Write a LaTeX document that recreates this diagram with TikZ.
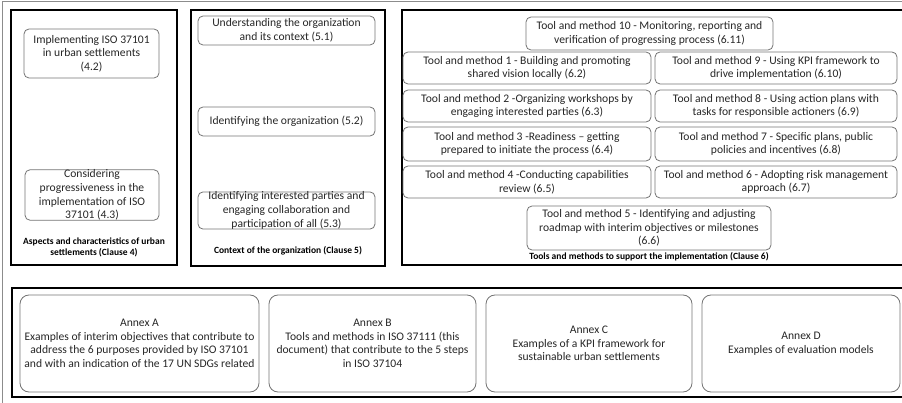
\documentclass[tikz,border=0pt]{standalone}
\usepackage{fontspec}
\setmainfont{Carlito}
\usepackage{tikz}

\begin{document}
\begin{tikzpicture}[x=1pt,y=-1pt,
      every node/.style={font=\fontsize{11.6}{13.6}\selectfont,text=black!85,align=center,inner sep=0pt},
      clause/.style={draw=black,line width=1.5pt},
      item/.style={draw=black!55,rounded corners=5pt,line width=0.8pt},
      annex/.style={draw=black!55,rounded corners=9pt,line width=0.8pt,minimum height=97},
      caption/.style={font=\fontsize{9.5}{11}\selectfont\bfseries,text=black}]
    \useasboundingbox (0,0) rectangle (902,403);
    \clip (0,0) rectangle (902,403);
    \draw[black!45,line width=1pt] (2,2) rectangle (920,420);

    \node[clause,minimum width=166,minimum height=255] (c4) at (94,137.5) {};
    \node[clause,minimum width=194,minimum height=256] (c5) at (288,138) {};
    \node[clause,minimum width=510,minimum height=255] (c6) at (657,137.5) {};
    \node[clause,minimum width=898,minimum height=109] (annexes) at (461,342.5) {};

    \node[item,minimum width=135,minimum height=49] (s42) at (91.5,53.5)
        {Implementing ISO 37101\\in urban settlements\\(4.2)};
    \node[item,minimum width=134,minimum height=48] (s43) at (92,195)
        {Considering\\progressiveness in the\\implementation of ISO\\37101 (4.3)};
    \node[caption] (l4) at (94,247.5) {Aspects and characteristics of urban\\settlements (Clause 4)};

    \node[item,minimum width=177,minimum height=29] (s51) at (286.5,30.5)
        {Understanding the organization\\and its context (5.1)};
    \node[item,minimum width=177,minimum height=29] (s52) at (286.5,121.5)
        {Identifying the organization (5.2)};
    \node[item,minimum width=177,minimum height=35] (s53) at (286.5,210.5)
        {Identifying interested parties and\\engaging collaboration and\\participation of all (5.3)};
    \node[caption] (l5) at (288,251) {Context of the organization (Clause 5)};

    \node[item,minimum width=247,minimum height=33] (tm10) at (649.5,33.5)
        {Tool and method 10 - Monitoring, reporting and\\verification of progressing process (6.11)};
    \node[item,minimum width=248,minimum height=32] (tm1) at (527,68)
        {Tool and method 1 - Building and promoting\\shared vision locally (6.2)};
    \node[item,minimum width=242,minimum height=32] (tm9) at (776,68)
        {Tool and method 9 - Using KPI framework to\\drive implementation (6.10)};
    \node[item,minimum width=248,minimum height=32] (tm2) at (527,106)
        {Tool and method 2 -Organizing workshops by\\engaging interested parties (6.3)};
    \node[item,minimum width=242,minimum height=32] (tm8) at (776,106)
        {Tool and method 8 - Using action plans with\\tasks for responsible actioners (6.9)};
    \node[item,minimum width=248,minimum height=34] (tm3) at (527,144)
        {Tool and method 3 -Readiness -- getting\\prepared to initiate the process (6.4)};
    \node[item,minimum width=242,minimum height=34] (tm7) at (776,144)
        {Tool and method 7 - Specific plans, public\\policies and incentives (6.8)};
    \node[item,minimum width=248,minimum height=32] (tm4) at (527,182)
        {Tool and method 4 -Conducting capabilities\\review (6.5)};
    \node[item,minimum width=242,minimum height=32] (tm6) at (776,182)
        {Tool and method 6 - Adopting risk management\\approach (6.7)};
    \node[item,minimum width=244,minimum height=44] (tm5) at (649,228)
        {Tool and method 5 - Identifying and adjusting\\roadmap with interim objectives or milestones\\(6.6)};
    \node[caption] (l6) at (649,257) {Tools and methods to support the implementation (Clause 6)};

    \node[annex,minimum width=239] (anA) at (139.5,343.5)
        {Annex A\\Examples of interim objectives that contribute to\\address the 6 purposes provided by ISO 37101\\and with an indication of the 17 UN SDGs related};
    \node[annex,minimum width=207] (anB) at (372.5,343.5)
        {Annex B\\Tools and methods in ISO 37111 (this\\document) that contribute to the 5 steps\\in ISO 37104};
    \node[annex,minimum width=206] (anC) at (589,343.5)
        {Annex C\\Examples of a KPI framework for\\sustainable urban settlements};
    \node[annex,minimum width=198] (anD) at (801,343.5)
        {Annex D\\Examples of evaluation models};
\end{tikzpicture}
\end{document}
